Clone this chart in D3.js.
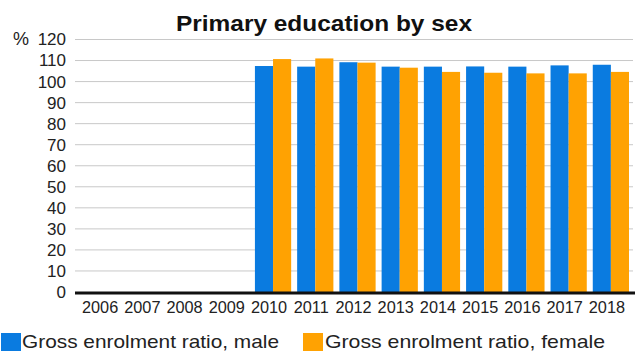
<!DOCTYPE html>
<html><head><meta charset="utf-8">
<script src="https://cdn.jsdelivr.net/npm/d3@7"></script>
<style>body{margin:0;background:#fff}svg{display:block;font-family:"Liberation Sans",Arial,sans-serif}</style>
</head><body><svg id="c" width="635" height="351"></svg>
<script>
const years = ["2006","2007","2008","2009","2010","2011","2012","2013","2014","2015","2016","2017","2018"];
const male = [null,null,null,null,107.4,107.1,109.2,107.1,107.1,107.2,107.1,107.7,108.0];
const female = [null,null,null,null,110.7,111.0,109.0,106.6,104.6,104.2,103.9,103.9,104.6];
const yTicks = [0,10,20,30,40,50,60,70,80,90,100,110,120];
const seriesNames = ["Gross enrolment ratio, male","Gross enrolment ratio, female"];
const colors = ["#0a7be0","#ffa202"];

const svg = d3.select("#c");
const y = d3.scaleLinear().domain([0,120]).range([292,39.5]);
const x = d3.scaleBand().domain(years).range([83,632]);
const sub = d3.scaleBand().domain([0,1]).range([3, x.bandwidth()-3]);

// gridlines
svg.append("g").selectAll("line").data(yTicks.filter(d=>d>0)).join("line")
  .attr("x1",75).attr("x2",633).attr("y1",d=>y(d)).attr("y2",d=>y(d))
  .attr("stroke","#c8c8c8").attr("stroke-width",1);

// y axis labels
const yAxis = d3.axisLeft(y).tickValues(yTicks).tickSize(0).tickPadding(0);
const ya = svg.append("g").attr("transform","translate(66,0)").call(yAxis);
ya.select(".domain").remove();
ya.selectAll("text").attr("font-size",17).attr("fill","#222").attr("font-family","Liberation Sans, Arial, sans-serif");
svg.append("text").attr("x",13).attr("y",y(120)).attr("dy","0.32em").attr("font-size",18).attr("fill","#222").text("%");

// bars
const data = [];
years.forEach((yr,i)=>{[male[i],female[i]].forEach((v,s)=>{ if(v!=null) data.push({yr,s,v}); });});
svg.append("g").selectAll("rect").data(data).join("rect")
  .attr("x",d=>x(d.yr)+sub(d.s)).attr("width",sub.bandwidth())
  .attr("y",d=>y(d.v)).attr("height",d=>y(0)-y(d.v))
  .attr("fill",d=>colors[d.s]);

// baseline
svg.append("line").attr("x1",75).attr("x2",635).attr("y1",y(0)+1).attr("y2",y(0)+1)
  .attr("stroke","#111").attr("stroke-width",3);

// x axis labels
const xa = svg.append("g").attr("transform","translate(-4,0)");
xa.selectAll("text").data(years).join("text")
  .attr("x",d=>x(d)+x.bandwidth()/2).attr("y",313)
  .attr("text-anchor","middle").attr("font-size",16.3).attr("fill","#222").text(d=>d);

// title
svg.append("text").attr("x",176).attr("y",31).attr("font-size",22).attr("font-weight","bold")
  .attr("fill","#111").attr("textLength",296).attr("lengthAdjust","spacingAndGlyphs")
  .text("Primary education by sex");

// legend
const leg = [{x:1,tx:22,w:257},{x:303,tx:325,w:280}];
leg.forEach((l,i)=>{
  svg.append("rect").attr("x",l.x).attr("y",333).attr("width",20).attr("height",18).attr("fill",colors[i]);
  svg.append("text").attr("x",l.tx).attr("y",348).attr("font-size",19).attr("fill","#222")
    .attr("textLength",l.w).attr("lengthAdjust","spacingAndGlyphs").text(seriesNames[i]);
});
</script></body></html>
